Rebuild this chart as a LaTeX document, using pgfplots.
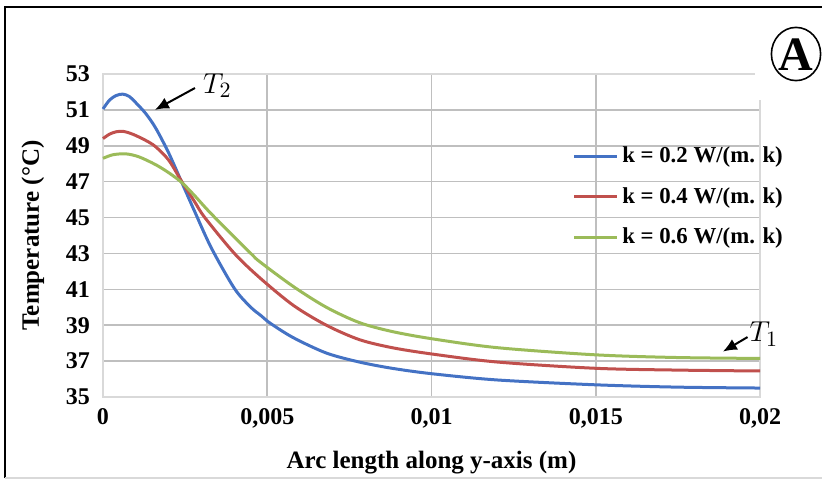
\documentclass[border=0pt]{standalone}
\usepackage{pgfplots}
\pgfplotsset{compat=1.18}
\usetikzlibrary{arrows.meta}
\usepackage{fontspec}
\setmainfont{Liberation Serif}
\definecolor{cblue}{HTML}{4472C4}
\definecolor{cred}{HTML}{C0504D}
\definecolor{cgreen}{HTML}{9BBB59}
\definecolor{grid}{HTML}{D9D9D9}
\begin{document}
\begin{tikzpicture}
\path[use as bounding box] (-51.5pt,-41pt) rectangle (359.5pt,198.5pt);
\begin{axis}[
  at={(0,0)}, anchor=south west,
  width=328.5pt, height=161.5pt, scale only axis,
  xmin=0, xmax=0.02, ymin=35, ymax=53,
  xtick={0,0.005,0.01,0.015,0.02},
  xticklabels={0,{0,005},{0,01},{0,015},{0,02}},
  scaled x ticks=false,
  ytick={35,37,...,53},
  grid=major,
  major grid style={grid, line width=0.8pt},
  axis line style={grid, line width=0.8pt},
  tick style={draw=none},
  /pgf/number format/assume math mode=true,
  ticklabel style={font=\fontsize{12}{14}\selectfont\bfseries},
  yticklabel style={xshift=-3pt},
  xticklabel style={yshift=-2pt},
  xlabel={Arc length along y-axis (m)},
  ylabel={Temperature (\textdegree C)},
  label style={font=\fontsize{12.5}{15}\selectfont\bfseries},
  xlabel style={yshift=-5pt},
  ylabel style={yshift=4pt},
  clip=false,
  legend style={at={(0.705,0.8)}, anchor=north west, draw=none, fill=none,
    font=\fontsize{11.4}{13}\selectfont\bfseries, row sep=6.8pt,
    /tikz/every even column/.append style={column sep=2pt}},
  legend cell align=left,
  legend image code/.code={\draw[#1,line width=1.5pt] (0cm,0cm) -- (0.75cm,0cm);},
]
\addplot[cblue, line width=1.5pt, smooth] coordinates {
(0,51.05) (0.0002,51.55) (0.0004,51.8) (0.0006,51.88) (0.0008,51.75) (0.001,51.4)
(0.0013,50.8) (0.0016,50.0) (0.002,48.6) (0.0024,46.95) (0.0028,45.3) (0.0033,43.3)
(0.004,41.05) (0.0045,40.0) (0.0048,39.55) (0.0051,39.1) (0.0058,38.3) (0.0068,37.45)
(0.0078,36.95) (0.0088,36.6) (0.01,36.3) (0.012,35.95) (0.015,35.68) (0.0175,35.55) (0.02,35.5)};
\addlegendentry{k = 0.2 W/(m. k)}
\addplot[cred, line width=1.5pt, smooth] coordinates {
(0,49.4) (0.0002,49.65) (0.0004,49.78) (0.00062,49.8) (0.0009,49.65) (0.0013,49.3)
(0.0016,48.95) (0.002,48.2) (0.0024,47.0) (0.0028,45.85) (0.0031,45.0) (0.004,43.0)
(0.0048,41.6) (0.0058,40.1) (0.0068,39.0) (0.0078,38.2) (0.0088,37.75) (0.01,37.4)
(0.012,36.95) (0.015,36.6) (0.0175,36.5) (0.02,36.45)};
\addlegendentry{k = 0.4 W/(m. k)}
\addplot[cgreen, line width=1.5pt, smooth] coordinates {
(0,48.3) (0.0003,48.5) (0.0007,48.55) (0.0011,48.38) (0.0016,47.95) (0.002,47.5)
(0.0024,46.95) (0.0028,46.2) (0.0033,45.2) (0.0045,43.0) (0.0048,42.5) (0.0058,41.15)
(0.0068,40.0) (0.0078,39.15) (0.0088,38.65) (0.01,38.25) (0.012,37.75) (0.015,37.35)
(0.0175,37.2) (0.02,37.15)};
\addlegendentry{k = 0.6 W/(m. k)}
\draw[-{Latex[length=7pt,width=6pt]}, line width=1pt] (axis cs:0.0028,52.22) -- (axis cs:0.00158,51.0);
\node at (axis cs:0.00348,52.35) {\fontsize{15}{17}\selectfont $T_2$};
\draw[-{Latex[length=7pt,width=6pt]}, line width=1pt] (axis cs:0.01962,38.34) -- (axis cs:0.01887,37.53);
\node at (axis cs:0.02012,38.5) {\fontsize{15}{17}\selectfont $T_1$};
\end{axis}
\fill[white] (326pt,148.5pt) rectangle (360pt,198pt);
\draw[line width=1pt] (-49pt,-40.5pt) -- (-49pt,195pt) -- (360pt,195pt);
\draw[line width=0.6pt, grid] (-49pt,-40.5pt) -- (360pt,-40.5pt);
\draw[line width=0.8pt] (346.5pt,171.5pt) ellipse (12.3pt and 13.3pt);
\node[font=\fontsize{24}{27}\selectfont\bfseries] at (346.5pt,171pt) {A};
\end{tikzpicture}
\end{document}
